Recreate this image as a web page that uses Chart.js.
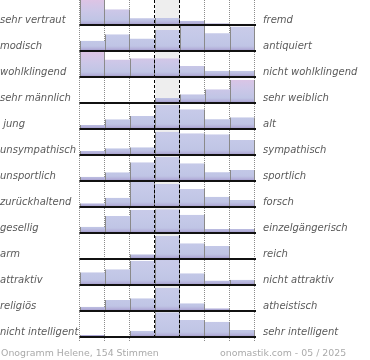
<!DOCTYPE html>
<html><head><meta charset="utf-8">
<script src="https://cdn.jsdelivr.net/npm/chart.js@4.4.1/dist/chart.umd.min.js"></script>
<style>
html,body{margin:0;padding:0;background:#fff;}
#wrap{position:relative;width:370px;height:360px;overflow:hidden;}
#c{position:absolute;left:0;top:0;}
.foot{position:absolute;top:347px;font-family:"DejaVu Sans";font-size:9.4px;color:#aaa;white-space:nowrap;line-height:12px;}
</style></head><body>
<div id="wrap"><canvas id="c" width="370" height="360"></canvas>
<div class="foot" style="left:1px">Onogramm Helene, 154 Stimmen</div>
<div class="foot" style="left:220px">onomastik.com - 05 / 2025</div>
</div>
<script>
// 7 answer steps between the two poles
const columns = ['1', '2', '3', '4', '5', '6', '7'];
const leftLabels = ['sehr vertraut', 'modisch', 'wohlklingend', 'sehr männlich', ' jung', 'unsympathisch',
  'unsportlich', 'zurückhaltend', 'gesellig', 'arm', 'attraktiv', 'religiös', 'nicht intelligent'];
const rightLabels = ['fremd', 'antiquiert', 'nicht wohlklingend', 'sehr weiblich', 'alt', 'sympathisch',
  'sportlich', 'forsch', 'einzelgängerisch', 'reich', 'nicht attraktiv', 'atheistisch', 'sehr intelligent'];

// relative bar heights per row (100 = full row height)
const vertraut     = [100, 63, 27, 28, 17, 7, 5];
const modisch      = [41, 67, 49, 84, 100, 71, 98];
const wohlklingend = [100, 69, 75, 75, 44, 25, 25];
const maennlich    = [0, 0, 0, 20, 35, 55, 92];
const jung         = [16, 39, 52, 96, 79, 39, 47];
const sympathisch  = [16, 27, 31, 93, 87, 83, 60];
const sportlich    = [17, 35, 75, 97, 71, 35, 44];
const forsch       = [15, 37, 100, 92, 72, 41, 28];
const gesellig     = [25, 68, 92, 95, 73, 16, 16];
const reich        = [3, 4, 19, 92, 63, 52, 0];
const attraktiv    = [51, 63, 97, 100, 47, 17, 21];
const religioes    = [17, 44, 51, 93, 31, 11, 0];
const intelligent  = [8, 0, 25, 99, 68, 61, 28];

const rows = [vertraut, modisch, wohlklingend, maennlich, jung, sympathisch, sportlich,
  forsch, gesellig, reich, attraktiv, religioes, intelligent];

const ROW = 26;      // row pitch in scale units
const FULL = 25;     // full bar height in scale units

function rowGradient(chart, r) {
  const y = chart.scales.y;
  if (!y || !chart.chartArea) return '#c4c8e6';
  const vals = rows[r];
  const mode = vals.indexOf(Math.max(...vals));
  const extreme = mode === 0 || mode === vals.length - 1;
  const top = y.getPixelForValue(r * ROW);
  const bot = y.getPixelForValue(r * ROW + FULL);
  const g = chart.ctx.createLinearGradient(0, top, 0, bot);
  if (extreme) {
    g.addColorStop(0, '#ddc4e5');
    g.addColorStop(0.4, '#cdc7e8');
  } else {
    g.addColorStop(0, '#c9cbe9');
    g.addColorStop(0.4, '#c5c9e8');
  }
  g.addColorStop(0.8, '#c0c5e5');
  g.addColorStop(0.92, '#b3afd9');
  g.addColorStop(1, '#9c92c4');
  return g;
}

const datasets = rows.map((vals, r) => ({
  data: vals.map(v => [r * ROW + FULL - v / 100 * FULL, r * ROW + FULL]),
  backgroundColor: ctx => rowGradient(ctx.chart, r),
  borderColor: '#8a8a8a',
  borderWidth: ctx => {
    if (ctx.type !== 'data') return 0;
    const i = ctx.dataIndex, v = vals[i];
    const prev = i > 0 ? vals[i - 1] : 0, next = i < vals.length - 1 ? vals[i + 1] : 0;
    return {left: v > prev ? 1 : 0, right: v >= next && v > 0 ? 1 : 0, top: 0, bottom: 0};
  },
  borderSkipped: false,
  grouped: false,
  barPercentage: 1,
  categoryPercentage: 1,
  inflateAmount: 0
}));

const onoPlugin = {
  id: 'onogrid',
  beforeDatasetsDraw(chart) {
    const {ctx, chartArea: a, scales: {x, y}} = chart;
    const edges = [];
    for (let k = 0; k <= columns.length; k++) {
      if (k === 0) edges.push(a.left);
      else if (k === columns.length) edges.push(a.right);
      else edges.push((x.getPixelForValue(k - 1) + x.getPixelForValue(k)) / 2);
    }
    chart.$edges = edges;
    const bottom = y.getPixelForValue(rows.length * ROW);
    ctx.save();
    ctx.fillStyle = '#eeeeee';
    ctx.fillRect(edges[3], a.top, edges[4] - edges[3], bottom - a.top);
    ctx.strokeStyle = '#8c8c8c';
    ctx.lineWidth = 1;
    ctx.setLineDash([1, 1]);
    [0, 1, 2, 5, 6, 7].forEach(k => {
      const px = Math.round(edges[k]) - 0.5;
      ctx.beginPath(); ctx.moveTo(px, a.top); ctx.lineTo(px, bottom + 3); ctx.stroke();
    });
    ctx.restore();
  },
  afterDatasetsDraw(chart) {
    const {ctx, chartArea: a, scales: {y}} = chart;
    const edges = chart.$edges;
    const bottom = y.getPixelForValue(rows.length * ROW);
    ctx.save();
    ctx.strokeStyle = '#000';
    ctx.lineWidth = 1;
    ctx.setLineDash([3, 2]);
    [3, 4].forEach(k => {
      const px = Math.round(edges[k]) - 0.5;
      ctx.beginPath(); ctx.moveTo(px, a.top); ctx.lineTo(px, bottom); ctx.stroke();
    });
    ctx.setLineDash([]);
    ctx.strokeStyle = '#111';
    ctx.lineWidth = 2;
    rows.forEach((vals, r) => {
      const py = y.getPixelForValue(r * ROW + FULL);
      ctx.beginPath(); ctx.moveTo(a.left - 0.5, py); ctx.lineTo(a.right + 1, py); ctx.stroke();
    });
    ctx.restore();
  }
};

const labelFont = {family: 'DejaVu Sans', size: 10, style: 'italic'};

new Chart(document.getElementById('c'), {
  type: 'bar',
  data: {labels: columns, datasets},
  options: {
    responsive: false,
    animation: false,
    events: [],
    layout: {padding: {left: 0, right: 0, top: 0, bottom: 22}},
    plugins: {legend: {display: false}, tooltip: {enabled: false}},
    scales: {
      x: {type: 'category', display: false, offset: true},
      y: {type: 'linear', display: false, reverse: true, min: 0, max: rows.length * ROW},
      yl: {
        type: 'category', position: 'left', labels: leftLabels, offset: true,
        grid: {display: false, drawTicks: false}, border: {display: false},
        ticks: {font: labelFont, color: '#5a5a5a', crossAlign: 'far', padding: 0, labelOffset: 7, autoSkip: false},
        afterFit: s => { s.width = 80; s.paddingTop = 0; s.paddingBottom = 0; }
      },
      yr: {
        type: 'category', position: 'right', labels: rightLabels, offset: true,
        grid: {display: false, drawTicks: false}, border: {display: false},
        ticks: {font: labelFont, color: '#5a5a5a', crossAlign: 'near', padding: 8, labelOffset: 7, autoSkip: false},
        afterFit: s => { s.width = 115; s.paddingTop = 0; s.paddingBottom = 0; }
      }
    }
  },
  plugins: [onoPlugin]
});
</script>
</body></html>
